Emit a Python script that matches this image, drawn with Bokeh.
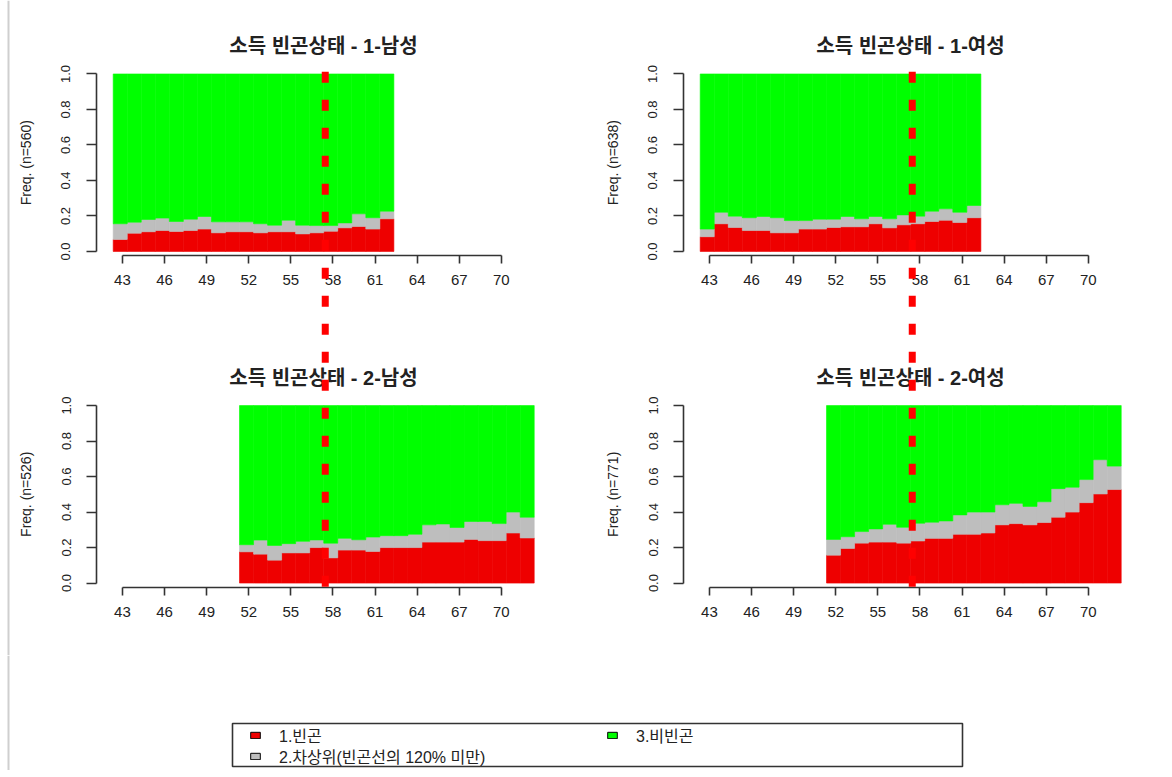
import math
from bokeh.plotting import figure
from bokeh.layouts import column, row
from bokeh.models import (Range1d, FixedTicker, PrintfTickFormatter, Label, Span,
                          LinearAxis, Legend, LegendItem, Grid, BoxAnnotation)
from bokeh.embed import file_html
from bokeh.resources import INLINE

# ---------------- data ----------------
ages_c1 = list(range(43, 63))
ages_c2 = list(range(52, 73))

m1_poor = [0.068, 0.103, 0.111, 0.118, 0.113, 0.118, 0.126, 0.105, 0.111, 0.111,
           0.105, 0.111, 0.111, 0.099, 0.105, 0.114, 0.133, 0.141, 0.126, 0.184]
m1_near = [0.088, 0.062, 0.069, 0.070, 0.056, 0.064, 0.071, 0.062, 0.056, 0.056,
           0.051, 0.037, 0.065, 0.049, 0.041, 0.032, 0.028, 0.071, 0.064, 0.043]
m1_non = [0.844, 0.835, 0.820, 0.812, 0.831, 0.818, 0.803, 0.833, 0.833, 0.833,
          0.844, 0.852, 0.824, 0.852, 0.854, 0.854, 0.839, 0.788, 0.810, 0.773]

f1_poor = [0.083, 0.156, 0.135, 0.118, 0.118, 0.105, 0.105, 0.126, 0.126, 0.135,
           0.139, 0.139, 0.156, 0.133, 0.150, 0.156, 0.169, 0.176, 0.163, 0.190]
f1_near = [0.043, 0.065, 0.064, 0.072, 0.079, 0.085, 0.069, 0.048, 0.056, 0.047,
           0.058, 0.045, 0.041, 0.051, 0.056, 0.043, 0.058, 0.064, 0.058, 0.069]
f1_non = [0.874, 0.779, 0.801, 0.810, 0.803, 0.810, 0.826, 0.826, 0.818, 0.818,
          0.803, 0.816, 0.803, 0.816, 0.794, 0.801, 0.773, 0.760, 0.779, 0.741]

m2_poor = [0.176, 0.163, 0.129, 0.170, 0.170, 0.200, 0.142, 0.186, 0.186, 0.178, 0.200,
           0.200, 0.200, 0.231, 0.231, 0.231, 0.246, 0.239, 0.239, 0.282, 0.254]
m2_near = [0.040, 0.079, 0.083, 0.052, 0.065, 0.043, 0.083, 0.066, 0.058, 0.081, 0.067,
           0.067, 0.075, 0.097, 0.102, 0.082, 0.101, 0.108, 0.096, 0.118, 0.117]
m2_non = [0.784, 0.758, 0.788, 0.778, 0.765, 0.757, 0.775, 0.748, 0.756, 0.741, 0.733,
          0.733, 0.725, 0.672, 0.667, 0.687, 0.653, 0.653, 0.665, 0.600, 0.629]

f2_poor = [0.157, 0.195, 0.225, 0.231, 0.231, 0.225, 0.237, 0.252, 0.252, 0.275, 0.275,
           0.282, 0.328, 0.335, 0.328, 0.341, 0.371, 0.400, 0.453, 0.502, 0.527]
f2_near = [0.089, 0.066, 0.065, 0.074, 0.100, 0.089, 0.100, 0.091, 0.098, 0.109, 0.125,
           0.118, 0.113, 0.114, 0.104, 0.117, 0.161, 0.140, 0.130, 0.193, 0.132]
f2_non = [0.754, 0.739, 0.710, 0.695, 0.669, 0.686, 0.663, 0.657, 0.650, 0.616, 0.600,
          0.600, 0.559, 0.551, 0.568, 0.542, 0.468, 0.460, 0.417, 0.305, 0.341]

titles = ["소득 빈곤상태 - 1-남성", "소득 빈곤상태 - 1-여성",
          "소득 빈곤상태 - 2-남성", "소득 빈곤상태 - 2-여성"]
ylabels = ["Freq. (n=560)", "Freq. (n=638)", "Freq. (n=526)", "Freq. (n=771)"]
state_labels = ["1.빈곤", "2.차상위(빈곤선의 120% 미만)", "3.비빈곤"]
x_ticks = [43, 46, 49, 52, 55, 58, 61, 64, 67, 70]
y_ticks = [0.0, 0.2, 0.4, 0.6, 0.8, 1.0]
cut_age = 57.45

# ---------------- style / layout ----------------
COLORS = ["#EE0000", "#BEBEBE", "#00FF00"]
DASH_COLOR = "#FF0000"
FONT = "Liberation Sans, Noto Sans CJK KR"
TXT = "#222222"
AX = "#333333"
EDGE = "#CFCFCF"

AX_X = 41.15                  # panel region left edge (where y axes sit)
PPX = 454 / (73.5 - AX_X)     # pixels per year
PPU = 177.5                   # pixels per unit share
Y0 = -0.025                   # bottom of a panel region
OFF = 331.6 / PPU             # vertical offset of the upper panel
FIG_H = 655
LOWER_BOTTOM_PX = 587         # y pixel of lower panel region bottom in column figure
BIN_LO, BIN_HI = 0.66, 0.34


def py_to_y(py):
    return Y0 + (LOWER_BOTTOM_PX - py) / PPU


def style_x(ax):
    ax.ticker = FixedTicker(ticks=x_ticks)
    ax.bounds = (x_ticks[0], x_ticks[-1])
    ax.major_tick_out = 8
    ax.major_tick_in = 0
    ax.minor_tick_out = 0
    ax.minor_tick_in = 0
    ax.major_label_standoff = 11
    ax.major_label_text_font = FONT
    ax.major_label_text_font_size = "15px"
    ax.major_label_text_color = TXT
    ax.axis_line_color = AX
    ax.axis_line_width = 1.6
    ax.major_tick_line_color = AX
    ax.major_tick_line_width = 1.6


def style_y(ax):
    ax.ticker = FixedTicker(ticks=y_ticks)
    ax.formatter = PrintfTickFormatter(format="%.1f")
    ax.bounds = (0, 1)
    ax.major_tick_out = 10
    ax.major_tick_in = 0
    ax.minor_tick_out = 0
    ax.minor_tick_in = 0
    ax.major_label_orientation = "vertical"
    ax.major_label_standoff = 16
    ax.major_label_text_font = FONT
    ax.major_label_text_font_size = "13px"
    ax.major_label_text_color = TXT
    ax.axis_line_color = AX
    ax.axis_line_width = 1.6
    ax.major_tick_line_color = AX
    ax.major_tick_line_width = 1.6


def stack(p, ages, poor, near, non, range_name):
    left = [a - BIN_LO for a in ages]
    right = [a + BIN_HI for a in ages]
    b0 = [0.0] * len(ages)
    t0 = list(poor)
    t1 = [a + b for a, b in zip(t0, near)]
    t2 = [a + b for a, b in zip(t1, non)]
    for bot, top, col in ((b0, t0, COLORS[0]), (t0, t1, COLORS[1]), (t1, t2, COLORS[2])):
        p.quad(left=left, right=right, bottom=bot, top=top, y_range_name=range_name,
               fill_color=col, line_color=col, line_width=0.6)


def add_text(p, txt, x, y, size, bold=False, angle=0.0, range_name="default"):
    p.add_layout(Label(x=x, y=y, text=txt, y_range_name=range_name,
                       angle=angle, text_align="center", text_baseline="middle",
                       text_font=FONT, text_font_size=size,
                       text_font_style="bold" if bold else "normal",
                       text_color=TXT))


def make_column(upper, lower, t_up, t_lo, lab_up, lab_lo, width, axis_px, edge_px=None):
    x0 = AX_X - axis_px / PPX
    x1 = AX_X + (width - axis_px) / PPX
    p = figure(width=width, height=FIG_H, x_range=Range1d(x0, x1),
               y_range=Range1d(py_to_y(FIG_H), py_to_y(0)),
               min_border=0, x_axis_location=None, y_axis_location=None,
               toolbar_location=None, output_backend="svg", title=None)
    p.extra_y_ranges = {"upper": Range1d(py_to_y(FIG_H) - OFF, py_to_y(0) - OFF)}
    p.outline_line_color = None
    p.grid.visible = False

    if edge_px is not None:
        p.add_layout(Span(location=x0 + edge_px / PPX, dimension="height",
                          line_color=EDGE, line_width=2))

    stack(p, ages_c1, *upper, "upper")
    stack(p, ages_c2, *lower, "default")

    # axes for both panels, drawn at the panel region edges
    for rname, xloc in (("upper", OFF + Y0), ("default", Y0)):
        ya = LinearAxis(y_range_name=rname, fixed_location=AX_X)
        style_y(ya)
        p.add_layout(ya, "left")
        xa = LinearAxis(fixed_location=xloc)
        style_x(xa)
        p.add_layout(xa, "below")

    xc = (AX_X + 73.5) / 2
    add_text(p, t_up, xc, py_to_y(45), "20px", bold=True)
    add_text(p, t_lo, xc, py_to_y(377), "20px", bold=True)
    xl = AX_X - 71 / PPX
    add_text(p, lab_up, xl, 0.5, "14px", angle=math.pi / 2, range_name="upper")
    add_text(p, lab_lo, xl, 0.5, "14px", angle=math.pi / 2)

    # cut-off age: one dashed line through both panels
    p.segment(x0=[cut_age], y0=[OFF + 1.04], x1=[cut_age], y1=[Y0],
              line_color=DASH_COLOR, line_width=7, line_dash="11 17",
              line_dash_offset=23, level="overlay")
    return p


left_col = make_column((m1_poor, m1_near, m1_non), (m2_poor, m2_near, m2_non),
                       titles[0], titles[2], ylabels[0], ylabels[2], 592, 96, edge_px=8)
right_col = make_column((f1_poor, f1_near, f1_non), (f2_poor, f2_near, f2_non),
                        titles[1], titles[3], ylabels[1], ylabels[3], 570, 91)

# ---------------- legend ----------------
LEG_W, LEG_H = 1162, 115
lf = figure(width=LEG_W, height=LEG_H, x_range=Range1d(0, LEG_W), y_range=Range1d(0, LEG_H),
            toolbar_location=None, output_backend="svg", min_border=0,
            x_axis_location=None, y_axis_location=None)
lf.outline_line_color = None
for obj in list(lf.center):
    if isinstance(obj, Grid):
        obj.visible = False
lf.add_layout(Span(location=8, dimension="height", line_color=EDGE, line_width=2))

swatches = []
for col in COLORS:
    # swatch renderers sit outside the visible range; only the legend shows them
    swatches.append(lf.quad(left=[-50], right=[-40], top=[-40], bottom=[-50],
                            fill_color=col, line_color="black", line_width=1))

leg_style = dict(padding=0, spacing=0, margin=0, glyph_width=12, glyph_height=8,
                 label_standoff=18, label_height=12,
                 label_text_font=FONT, label_text_font_size="16px",
                 label_text_color=TXT, border_line_color=None,
                 background_fill_alpha=0.0)
leg_row1 = Legend(items=[LegendItem(label=state_labels[0], renderers=[swatches[0]]),
                         LegendItem(label=state_labels[2], renderers=[swatches[2]])],
                  location=(249, 23), orientation="horizontal",
                  label_width=327, **leg_style)
leg_row2 = Legend(items=[LegendItem(label=state_labels[1], renderers=[swatches[1]])],
                  location=(249, 2), orientation="vertical", **leg_style)
lf.add_layout(BoxAnnotation(left=232, right=962, bottom=4, top=47,
                            fill_alpha=0.0, line_color=AX, line_width=1.6,
                            line_alpha=1.0))
lf.add_layout(leg_row1)
lf.add_layout(leg_row2)

layout = column(row(left_col, right_col), lf)

with open("out.html", "w") as fh:
    fh.write(file_html(layout, INLINE))
